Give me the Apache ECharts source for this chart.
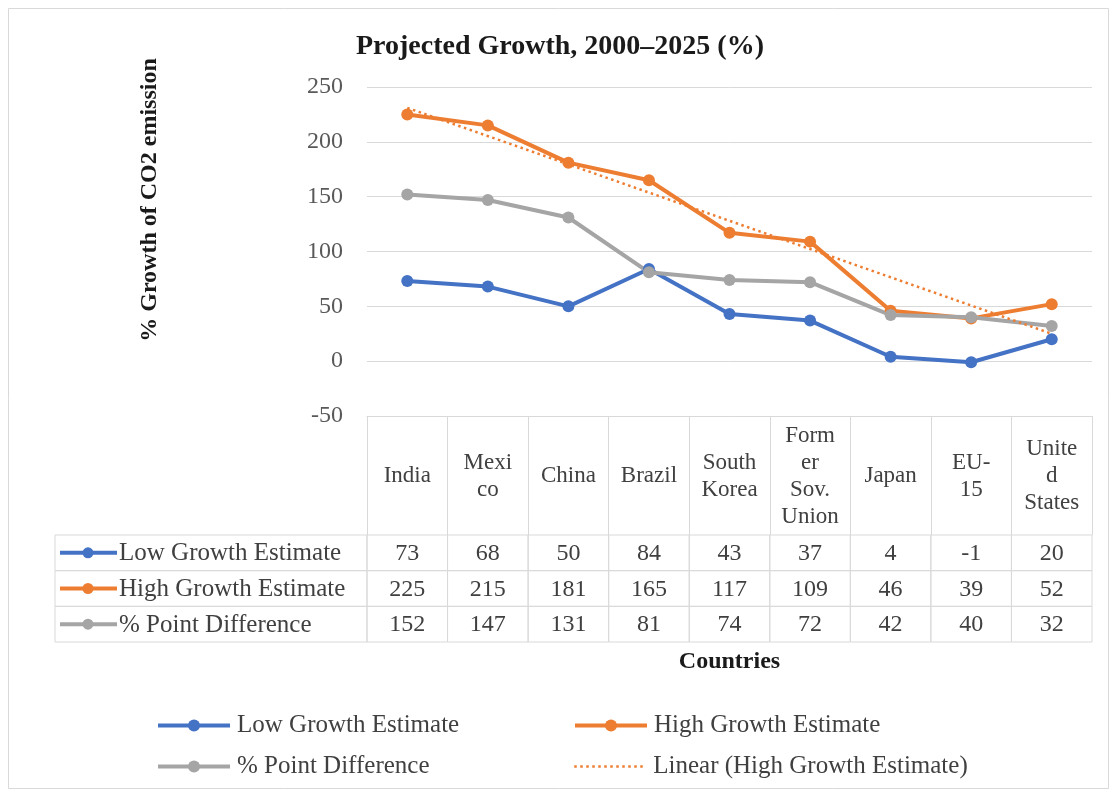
<!DOCTYPE html>
<html>
<head>
<meta charset="utf-8">
<script src="https://cdn.jsdelivr.net/npm/echarts@6/dist/echarts.min.js"></script>
<style>
  html, body { margin: 0; padding: 0; background: #ffffff; }
  #chart { width: 1120px; height: 794px; }
</style>
</head>
<body>
<div id="chart"></div>
<script>
// Countries on the category axis and the wrapped header text shown in the table
const countries = ['India', 'Mexico', 'China', 'Brazil', 'South Korea', 'Former Sov. Union', 'Japan', 'EU-15', 'United States'];
const headerLabels = ['India', 'Mexi\nco', 'China', 'Brazil', 'South\nKorea', 'Form\ner\nSov.\nUnion', 'Japan', 'EU-\n15', 'Unite\nd\nStates'];

// Projected growth of CO2 emission, 2000–2025 (%)
const lowGrowth = [73, 68, 50, 84, 43, 37, 4, -1, 20];
const highGrowth = [225, 215, 181, 165, 117, 109, 46, 39, 52];
const pointDiff = [152, 147, 131, 81, 74, 72, 42, 40, 32];

// Linear trend of the high estimate: value at the first and the last country
const trendHigh = [231, null, null, null, null, null, null, null, 25];

// Value axis ticks
const yMin = -50;
const yMax = 250;
const yStep = 50;

const seriesNames = ['Low Growth Estimate', 'High Growth Estimate', '% Point Difference'];
const trendName = 'Linear (High Growth Estimate)';
const seriesColors = ['#4472C4', '#ED7D31', '#A5A5A5'];
const tableRows = [lowGrowth, highGrowth, pointDiff];

const FONT = '"Liberation Serif", "Times New Roman", serif';
const TEXT = '#404040';
const DARK = '#1a1a1a';
const RULE = '#D9D9D9';
const LABEL_COL = 312;   // width of the row-name column of the data table

const chart = echarts.init(document.getElementById('chart'));

// one item per table cell: [column, row, value]
const cellData = [];
tableRows.forEach((vals, r) => vals.forEach((v, c) => cellData.push([c, r, v])));

function renderCell(params, api) {
  const p = api.coord([api.value(0), api.value(1)]);
  const s = api.size([1, 1]);
  return {
    type: 'group',
    children: [
      { type: 'rect', shape: { x: p[0] - s[0] / 2, y: p[1] - s[1] / 2, width: s[0], height: s[1] },
        style: { fill: 'none', stroke: RULE, lineWidth: 1 } },
      { type: 'text', x: p[0], y: p[1] + 1,
        style: { text: String(api.value(2)), align: 'center', verticalAlign: 'middle',
                 fontSize: 24, fontFamily: FONT, fill: TEXT } }
    ]
  };
}

function renderRowName(params, api) {
  const r = api.value(1);
  const p = api.coord([0, r]);
  const s = api.size([1, 1]);
  const x0 = p[0] - s[0] / 2 - LABEL_COL;
  const y = p[1];
  const color = seriesColors[r];
  return {
    type: 'group',
    children: [
      { type: 'rect', shape: { x: x0, y: y - s[1] / 2, width: LABEL_COL, height: s[1] },
        style: { fill: 'none', stroke: RULE, lineWidth: 1 } },
      { type: 'line', shape: { x1: x0 + 5, y1: y, x2: x0 + 62, y2: y },
        style: { stroke: color, lineWidth: 4 } },
      { type: 'circle', shape: { cx: x0 + 33, cy: y, r: 5.5 }, style: { fill: color } },
      { type: 'text', x: x0 + 64, y: y + 1,
        style: { text: seriesNames[r], align: 'left', verticalAlign: 'middle',
                 fontSize: 25, fontFamily: FONT, fill: TEXT } }
    ]
  };
}

function lineSeries(name, data, color) {
  return {
    name: name, type: 'line', xAxisIndex: 0, yAxisIndex: 0, data: data,
    symbol: 'circle', symbolSize: 12,
    itemStyle: { color: color },
    lineStyle: { color: color, width: 4 },
    emphasis: { disabled: true },
    animation: false
  };
}

const legendBase = {
  selectedMode: false, itemWidth: 72, itemHeight: 15, itemGap: 10, padding: 0,
  lineStyle: { width: 4 },
  textStyle: { fontFamily: FONT, fontSize: 25, color: TEXT, padding: [2, 0, 0, 2] }
};

chart.setOption({
  backgroundColor: '#ffffff',
  animation: false,
  title: {
    text: 'Projected Growth, 2000–2025 (%)', left: 'center', top: 28,
    textStyle: { fontFamily: FONT, fontSize: 28, fontWeight: 'bold', color: DARK }
  },
  legend: [
    Object.assign({ data: [seriesNames[0]], left: 156, top: 713 }, legendBase),
    Object.assign({ data: [seriesNames[1]], left: 573, top: 713 }, legendBase),
    Object.assign({ data: [seriesNames[2]], left: 156, top: 754 }, legendBase),
    Object.assign({
      data: [{ name: trendName, itemStyle: { opacity: 0 },
               lineStyle: { width: 2.5, type: [2.5, 3.5] } }],
      left: 573, top: 754
    }, legendBase)
  ],
  grid: [
    { left: 367, right: 28, top: 87, height: 329 },
    { left: 367, right: 28, top: 535, height: 107 }
  ],
  xAxis: [
    {
      type: 'category', gridIndex: 0, data: countries, boundaryGap: true,
      axisLine: { show: true, onZero: false, lineStyle: { color: RULE, width: 1 } },
      axisTick: { show: true, interval: 0, length: 119, lineStyle: { color: RULE, width: 1 } },
      axisLabel: {
        interval: 0, margin: 60, verticalAlign: 'middle', lineHeight: 27,
        fontFamily: FONT, fontSize: 23, color: TEXT,
        formatter: (v, i) => headerLabels[i]
      },
      splitLine: { show: false }
    },
    {
      type: 'category', gridIndex: 1, data: countries, boundaryGap: true,
      axisLine: { show: false }, axisTick: { show: false }, axisLabel: { show: false },
      name: 'Countries', nameLocation: 'middle', nameGap: 8,
      nameTextStyle: { fontFamily: FONT, fontSize: 24, fontWeight: 'bold', color: DARK }
    }
  ],
  yAxis: [
    {
      type: 'value', gridIndex: 0, min: yMin, max: yMax, interval: yStep,
      axisLine: { show: false }, axisTick: { show: false },
      axisLabel: { margin: 24, fontFamily: FONT, fontSize: 24, color: '#595959' },
      splitLine: { show: true, lineStyle: { color: RULE, width: 1 } }
    },
    {
      type: 'category', gridIndex: 1, data: seriesNames, inverse: true, show: false
    }
  ],
  graphic: [
    { type: 'rect', shape: { x: 8.5, y: 8.5, width: 1100, height: 780 },
      style: { fill: 'none', stroke: RULE, lineWidth: 1 }, silent: true },
    { type: 'text', x: 150, y: 200, rotation: Math.PI / 2,
      style: { text: '% Growth of CO2 emission', align: 'center', verticalAlign: 'middle',
               fontFamily: FONT, fontSize: 24, fontWeight: 'bold', fill: DARK } }
  ],
  series: [
    lineSeries(seriesNames[0], lowGrowth, seriesColors[0]),
    lineSeries(seriesNames[1], highGrowth, seriesColors[1]),
    lineSeries(seriesNames[2], pointDiff, seriesColors[2]),
    {
      name: trendName, type: 'line', xAxisIndex: 0, yAxisIndex: 0, data: trendHigh,
      connectNulls: true, symbol: 'none', z: 5,
      itemStyle: { color: seriesColors[1] },
      lineStyle: { color: seriesColors[1], width: 2.5, type: [2.5, 3.5] },
      emphasis: { disabled: true }, animation: false
    },
    {
      name: 'tableCells', type: 'custom', xAxisIndex: 1, yAxisIndex: 1,
      data: cellData, renderItem: renderCell, clip: false, silent: true,
      encode: { x: 0, y: 1 }
    },
    {
      name: 'tableRowNames', type: 'custom', xAxisIndex: 1, yAxisIndex: 1,
      data: [[0, 0], [0, 1], [0, 2]], renderItem: renderRowName, clip: false, silent: true,
      encode: { x: 0, y: 1 }
    }
  ]
});
</script>
</body>
</html>
